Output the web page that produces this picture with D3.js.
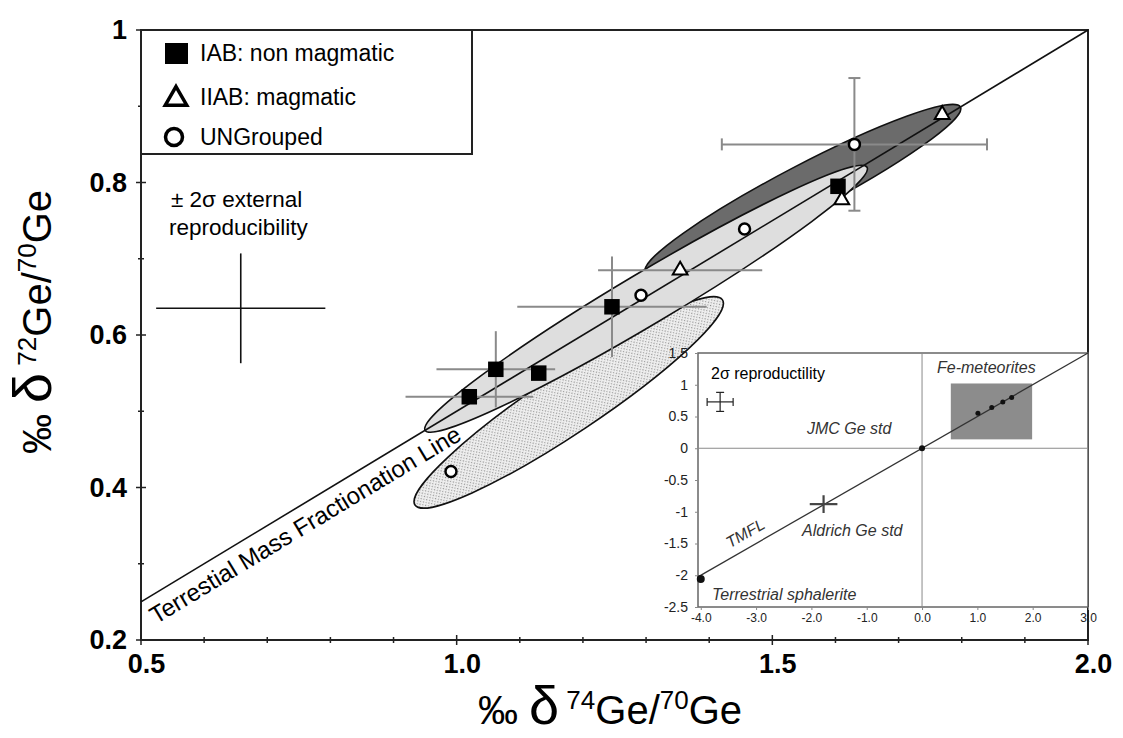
<!DOCTYPE html>
<html>
<head>
<meta charset="utf-8">
<script src="https://cdn.jsdelivr.net/npm/d3@7"></script>
<style>
  body { margin: 0; background: #fff; }
  svg { display: block; font-family: "Liberation Sans", Arial, Helvetica, sans-serif; }
</style>
</head>
<body>
<div class="geChart"></div>
<script>
// main plot values (permil)
const xMajorTicks = [0.5, 1.0, 1.5, 2.0];
const yMajorTicks = [0.2, 0.4, 0.6, 0.8, 1];
const iabPoints = [[1.02, 0.519], [1.062, 0.555], [1.13, 0.55], [1.246, 0.637], [1.604, 0.795]];
const iiabPoints = [[1.354, 0.685], [1.61, 0.777], [1.769, 0.889]];
const ungroupedPoints = [[0.991, 0.421], [1.292, 0.652], [1.456, 0.739], [1.63, 0.85]];
// [x, y, +-x, +-y]
const errorBars = [[1.02, 0.519, 0.101, 0], [1.062, 0.555, 0.094, 0.05], [1.246, 0.637, 0.15, 0.066], [1.354, 0.685, 0.13, 0]];
const cappedErrorBars = [[1.63, 0.85, 0.21, 0.087]];
const reproCross = [0.658, 0.635, 0.134, 0.072];
const tmflLine = [[0.5, 0.25], [2.0, 1.0]];
// fields: [tip1, tip2, half width]
const stippleField = [[0.934, 0.377], [1.421, 0.646], 0.04];
const darkField = [[1.299, 0.683], [1.798, 0.899], 0.031];
const lightField = [[0.950, 0.475], [1.650, 0.820], 0.034];

// inset values
const insetXTicks = [-4, -3, -2, -1, 0, 1, 2, 3];
const insetYTicks = [1.5, 1, 0.5, 0, -0.5, -1, -1.5, -2, -2.5];
const insetLine = [[-4.05, -2.025], [3.0, 1.5]];
const feBox = [0.52, 1.99, 0.14, 1.02];
const feX = [1.01, 1.26, 1.46, 1.62];
const feY = [0.55, 0.64, 0.73, 0.80];
const jmcStd = [0, 0];
const aldrichStd = [-1.78, -0.88, 0.25, 0.14];
const sphalerite = [-4.0, -2.06];
const insetRepro = [-3.65, 0.73, 0.235, 0.15];

const width = 1123, height = 738;
const svg = d3.select(".geChart").append("svg")
  .attr("width", width)
  .attr("height", height);

const x = d3.scaleLinear().domain([0.5, 2.0]).range([141, 1088]);
const y = d3.scaleLinear().domain([0.2, 1]).range([640, 30]);

const defs = svg.append("defs");
const pat = defs.append("pattern")
  .attr("id", "stipple")
  .attr("width", 4).attr("height", 4)
  .attr("patternUnits", "userSpaceOnUse");
pat.append("rect").attr("width", 4).attr("height", 4).attr("fill", "#f0f0f0");
pat.append("rect").attr("x", 0).attr("y", 0).attr("width", 1.2).attr("height", 1.2).attr("fill", "#8a8a8a");
pat.append("rect").attr("x", 2).attr("y", 2).attr("width", 1.2).attr("height", 1.2).attr("fill", "#a0a0a0");

function field(f, fill) {
  const x1 = x(f[0][0]), y1 = y(f[0][1]), x2 = x(f[1][0]), y2 = y(f[1][1]);
  const cx = (x1 + x2) / 2, cy = (y1 + y2) / 2;
  const ang = Math.atan2(y2 - y1, x2 - x1) * 180 / Math.PI;
  svg.append("ellipse")
    .attr("cx", cx).attr("cy", cy)
    .attr("rx", Math.hypot(x2 - x1, y2 - y1) / 2)
    .attr("ry", f[2] * (y(0) - y(1)))
    .attr("transform", `rotate(${ang},${cx},${cy})`)
    .attr("fill", fill)
    .attr("stroke", "#111")
    .attr("stroke-width", 1.6);
}

field(stippleField, "url(#stipple)");
field(darkField, "#6b6b6b");
field(lightField, "#dedede");

// frame
svg.append("rect")
  .attr("x", x(0.5)).attr("y", y(1))
  .attr("width", x(2) - x(0.5)).attr("height", y(0.2) - y(1))
  .attr("fill", "none").attr("stroke", "#222").attr("stroke-width", 2);

// ticks crossing the axes
const xMinor = d3.range(5, 21).map(d => d / 10);
const yMinor = d3.range(2, 11).map(d => d / 10);
svg.append("g").selectAll("line").data(xMinor).join("line")
  .attr("x1", d => x(d)).attr("x2", d => x(d))
  .attr("y1", d => y(0.2) - (xMajorTicks.includes(d) ? 5 : 3))
  .attr("y2", d => y(0.2) + (xMajorTicks.includes(d) ? 5 : 3))
  .attr("stroke", "#222").attr("stroke-width", 1.5);
svg.append("g").selectAll("line").data(yMinor).join("line")
  .attr("y1", d => y(d)).attr("y2", d => y(d))
  .attr("x1", d => x(0.5) - (d * 10 % 2 === 0 ? 5 : 3))
  .attr("x2", d => x(0.5) + (d * 10 % 2 === 0 ? 5 : 3))
  .attr("stroke", "#222").attr("stroke-width", 1.5);

const xAxis = svg.append("g")
  .attr("transform", `translate(0,${y(0.2)})`)
  .call(d3.axisBottom(x).tickValues(xMajorTicks).tickFormat(d3.format(".1f")).tickSize(0).tickPadding(14));
const yAxis = svg.append("g")
  .attr("transform", `translate(${x(0.5)},0)`)
  .call(d3.axisLeft(y).tickValues(yMajorTicks).tickFormat(d => d === 1 ? "1" : d.toFixed(1)).tickSize(0).tickPadding(14));
[xAxis, yAxis].forEach(a => {
  a.select(".domain").remove();
  a.selectAll("text")
    .attr("font-family", "'Liberation Sans', Arial, sans-serif")
    .attr("font-size", 27).attr("font-weight", "bold").attr("fill", "#000");
});
xAxis.selectAll("text").attr("dx", 5);

// mass fractionation line
svg.append("path")
  .datum(tmflLine)
  .attr("d", d3.line().x(d => x(d[0])).y(d => y(d[1])))
  .attr("stroke", "#111").attr("stroke-width", 1.6).attr("fill", "none");
const lineAngle = Math.atan2(y(0.25) - y(1), x(2) - x(0.5)) * 180 / Math.PI;
svg.append("text")
  .attr("transform", `translate(${x(0.5) + 1},${y(0.2505)}) rotate(${-lineAngle})`)
  .attr("dy", "1.12em")
  .attr("font-size", 24)
  .text("Terrestial Mass Fractionation Line");

// error bars
function cross(g, d, sx, sy, cap, color, w) {
  const cx = sx(d[0]), cy = sy(d[1]);
  const segs = [];
  if (d[2]) {
    segs.push([sx(d[0] - d[2]), cy, sx(d[0] + d[2]), cy]);
    if (cap) {
      segs.push([sx(d[0] - d[2]), cy - cap, sx(d[0] - d[2]), cy + cap]);
      segs.push([sx(d[0] + d[2]), cy - cap, sx(d[0] + d[2]), cy + cap]);
    }
  }
  if (d[3]) {
    segs.push([cx, sy(d[1] - d[3]), cx, sy(d[1] + d[3])]);
    if (cap) {
      segs.push([cx - cap, sy(d[1] - d[3]), cx + cap, sy(d[1] - d[3])]);
      segs.push([cx - cap, sy(d[1] + d[3]), cx + cap, sy(d[1] + d[3])]);
    }
  }
  g.selectAll(null).data(segs).join("line")
    .attr("x1", s => s[0]).attr("y1", s => s[1])
    .attr("x2", s => s[2]).attr("y2", s => s[3])
    .attr("stroke", color).attr("stroke-width", w);
}
const bars = svg.append("g");
errorBars.forEach(d => cross(bars, d, x, y, 0, "#8a8a8a", 2));
cappedErrorBars.forEach(d => cross(bars, d, x, y, 6, "#8a8a8a", 2));
cross(svg.append("g"), reproCross, x, y, 0, "#111", 1.6);

svg.append("text").attr("x", 171).attr("y", 207).attr("font-size", 22.5).text("± 2σ external");
svg.append("text").attr("x", 169).attr("y", 235).attr("font-size", 22.5).text("reproducibility");

// points
svg.append("g").selectAll("path").data(iabPoints).join("path")
  .attr("transform", d => `translate(${x(d[0])},${y(d[1])})`)
  .attr("d", d3.symbol().type(d3.symbolSquare).size(240))
  .attr("fill", "#000");
svg.append("g").selectAll("path").data(iiabPoints).join("path")
  .attr("transform", d => `translate(${x(d[0])},${y(d[1])})`)
  .attr("d", d3.symbol().type(d3.symbolTriangle).size(95))
  .attr("fill", "#fff").attr("stroke", "#000").attr("stroke-width", 2);
svg.append("g").selectAll("circle").data(ungroupedPoints).join("circle")
  .attr("cx", d => x(d[0])).attr("cy", d => y(d[1])).attr("r", 5.5)
  .attr("fill", "#fff").attr("stroke", "#000").attr("stroke-width", 2.5);

// legend
const legend = svg.append("g");
legend.append("rect")
  .attr("x", x(0.5)).attr("y", y(1)).attr("width", 331).attr("height", 124)
  .attr("fill", "#fff").attr("stroke", "#222").attr("stroke-width", 2);
legend.append("rect").attr("x", 165).attr("y", 43).attr("width", 23).attr("height", 21).attr("fill", "#000");
legend.append("path").attr("transform", "translate(176,99)")
  .attr("d", d3.symbol().type(d3.symbolTriangle).size(200))
  .attr("fill", "#fff").attr("stroke", "#000").attr("stroke-width", 3.5);
legend.append("circle").attr("cx", 174).attr("cy", 137).attr("r", 8.5)
  .attr("fill", "#fff").attr("stroke", "#000").attr("stroke-width", 3.5);
legend.selectAll("text").data(["IAB: non magmatic", "IIAB: magmatic", "UNGrouped"]).join("text")
  .attr("x", 200).attr("y", (d, i) => [61, 105, 145][i])
  .attr("font-size", 23).text(d => d);

// axis titles
function title(g, sup) {
  g.append("tspan").attr("font-size", 40).text("‰ ");
  g.append("tspan").attr("font-size", 54).text("δ");
  g.append("tspan").attr("font-size", 26).attr("dy", -15).text(" " + sup);
  g.append("tspan").attr("font-size", 40).attr("dy", 15).text("Ge/");
  g.append("tspan").attr("font-size", 26).attr("dy", -15).text("70");
  g.append("tspan").attr("font-size", 40).attr("dy", 15).text("Ge");
}
title(svg.append("text").attr("x", 610).attr("y", 724).attr("text-anchor", "middle"), "74");
title(svg.append("text").attr("transform", "translate(51,322) rotate(-90)").attr("text-anchor", "middle"), "72");

// inset
const ix = d3.scaleLinear().domain([-4.05, 3.0]).range([698, 1088]);
const iy = d3.scaleLinear().domain([-2.5, 1.5]).range([607, 353]);
const inset = svg.append("g");
inset.append("rect")
  .attr("x", ix(-4.05)).attr("y", iy(1.5))
  .attr("width", ix(3) - ix(-4.05)).attr("height", iy(-2.5) - iy(1.5))
  .attr("fill", "#fff").attr("stroke", "#666").attr("stroke-width", 1.5);
inset.append("rect")
  .attr("x", ix(feBox[0])).attr("y", iy(feBox[3]))
  .attr("width", ix(feBox[1]) - ix(feBox[0])).attr("height", iy(feBox[2]) - iy(feBox[3]))
  .attr("fill", "#8c8c8c");
inset.append("line").attr("x1", ix(0)).attr("x2", ix(0)).attr("y1", iy(1.5)).attr("y2", iy(-2.5))
  .attr("stroke", "#8a8a8a").attr("stroke-width", 1);
inset.append("line").attr("x1", ix(-4.05)).attr("x2", ix(3)).attr("y1", iy(0)).attr("y2", iy(0))
  .attr("stroke", "#8a8a8a").attr("stroke-width", 1);
inset.append("path")
  .datum(insetLine)
  .attr("d", d3.line().x(d => ix(d[0])).y(d => iy(d[1])))
  .attr("stroke", "#333").attr("stroke-width", 1.3).attr("fill", "none");

const ixAxis = inset.append("g").attr("transform", `translate(0,${iy(-2.5)})`)
  .call(d3.axisBottom(ix).tickValues(insetXTicks).tickFormat(d => d.toFixed(1)).tickSize(3).tickPadding(3));
const iyAxis = inset.append("g").attr("transform", `translate(${ix(-4.05)},0)`)
  .call(d3.axisLeft(iy).tickValues(insetYTicks).tickFormat(d => String(d)).tickSize(3).tickPadding(7));
[ixAxis, iyAxis].forEach(a => {
  a.select(".domain").remove();
  a.selectAll("line").attr("stroke", "#888");
  a.selectAll("text").attr("font-family", "'Liberation Sans', Arial, sans-serif").attr("fill", "#222");
});
ixAxis.selectAll("text").attr("font-size", 12);
iyAxis.selectAll("text").attr("font-size", 14);

inset.selectAll(".fe").data(feX).join("circle")
  .attr("cx", d => ix(d)).attr("cy", (d, i) => iy(feY[i])).attr("r", 2.5).attr("fill", "#111");
inset.append("circle").attr("cx", ix(jmcStd[0])).attr("cy", iy(jmcStd[1])).attr("r", 3).attr("fill", "#111");
inset.append("circle").attr("cx", ix(sphalerite[0])).attr("cy", iy(sphalerite[1])).attr("r", 4).attr("fill", "#111");
cross(inset.append("g"), aldrichStd, ix, iy, 0, "#444", 2.2);
cross(inset.append("g"), insetRepro, ix, iy, 4, "#222", 1.2);

inset.append("text").attr("x", 711).attr("y", 379).attr("font-size", 16).text("2σ reproductility");
const notes = [
  ["Fe-meteorites", 937, 373],
  ["JMC Ge std", 807, 434],
  ["Aldrich Ge std", 802, 536],
  ["Terrestrial sphalerite", 712, 600]
];
inset.selectAll(".note").data(notes).join("text")
  .attr("x", d => d[1]).attr("y", d => d[2])
  .attr("font-size", 16).attr("font-style", "italic").attr("fill", "#333")
  .text(d => d[0]);
inset.append("text")
  .attr("transform", "translate(748,538) rotate(-30)")
  .attr("text-anchor", "middle").attr("font-size", 16).attr("font-style", "italic").attr("fill", "#333")
  .text("TMFL");
</script>
</body>
</html>
